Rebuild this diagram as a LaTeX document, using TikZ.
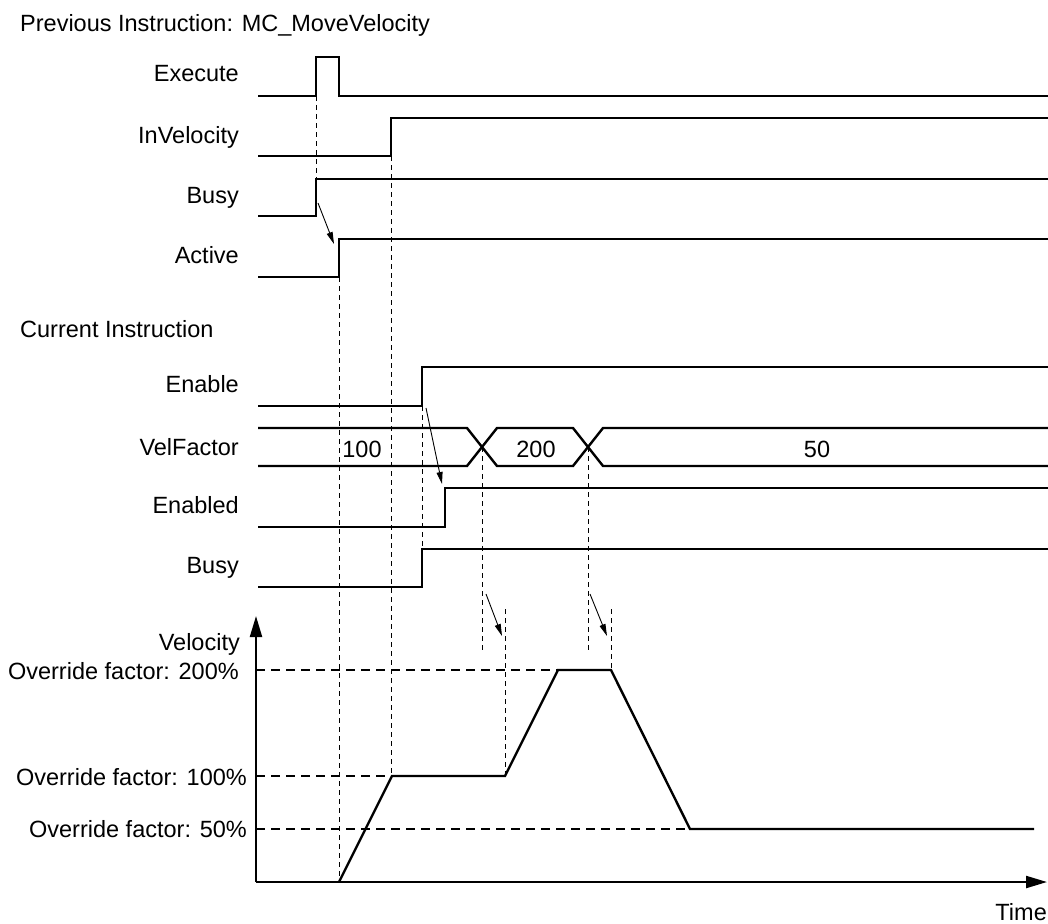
\documentclass[tikz,border=0pt]{standalone}
\usepackage{fontspec}
\setmainfont{Liberation Sans}
\usepackage{tikz}
\usetikzlibrary{arrows.meta}
\tikzset{
  lbl/.style={font=\fontsize{23.5}{28}\selectfont,anchor=base east,inner sep=0pt},
  txt/.style={font=\fontsize{23.5}{28}\selectfont,inner sep=0pt},
  sig/.style={line width=2.4pt,line join=miter},
  tick/.style={line width=0.9pt,dash pattern=on 5pt off 4pt},
  lvl/.style={line width=1.6pt,dash pattern=on 9pt off 6pt},
  cause/.style={line width=0.9pt,-{Triangle[length=12pt,width=6pt]}}
}

\begin{document}
\begin{tikzpicture}[x=1pt,y=-1pt]
            \useasboundingbox (0,0) rectangle (1048,923);

            % Previous instruction
            \node[txt,anchor=base west] (prev) at (20,32) {Previous Instruction: MC\_MoveVelocity};
            \node[lbl] (execute) at (239,82) {Execute};
            \node[lbl] (invelocity) at (239,143) {InVelocity};
            \node[lbl] (busyA) at (239,203) {Busy};
            \node[lbl] (active) at (239,263) {Active};

            \draw[sig] (258,96) -- (316,96) -- (316,57) -- (339,57) -- (339,96) -- (1048,96);
            \draw[sig] (258,156) -- (391,156) -- (391,118) -- (1048,118);
            \draw[sig] (258,216) -- (316,216) -- (316,179) -- (1048,179);
            \draw[sig] (258,277) -- (339,277) -- (339,239) -- (1048,239);

            % Current instruction
            \node[txt,anchor=base west] (curr) at (20,337) {Current Instruction};
            \node[lbl] (enable) at (239,392) {Enable};
            \node[lbl] (velfactor) at (239,455) {VelFactor};
            \node[lbl] (enabled) at (239,513) {Enabled};
            \node[lbl] (busyB) at (239,573) {Busy};

            \draw[sig] (258,406) -- (422,406) -- (422,367) -- (1048,367);
            \draw[sig] (258,428) -- (467,428) -- (497,466) -- (573,466) -- (603,428) -- (1048,428);
            \draw[sig] (258,466) -- (467,466) -- (497,428) -- (573,428) -- (603,466) -- (1048,466);
            \draw[sig] (258,527) -- (445,527) -- (445,488) -- (1048,488);
            \draw[sig] (258,587) -- (422,587) -- (422,549) -- (1048,549);

            \node[txt,anchor=base] (vf100) at (362,457) {100};
            \node[txt,anchor=base] (vf200) at (536,457) {200};
            \node[txt,anchor=base] (vf50) at (817,457) {50};

            % Velocity graph
            \node[lbl] (velocity) at (240,650) {Velocity};
            \node[lbl] (ov200) at (239,679) {Override factor: 200\%};
            \node[lbl] (ov100) at (247,785) {Override factor: 100\%};
            \node[lbl] (ov50) at (247,837) {Override factor: 50\%};
            \node[txt,anchor=base east] (time) at (1047,920) {Time};

            \coordinate (origin) at (256,882);
            \coordinate (vtop) at (256,616);
            \coordinate (tend) at (1047,882);
            \draw[line width=2.2pt,-{Triangle[length=21pt,width=12pt]}] (origin) -- (vtop);
            \draw[line width=2.2pt,-{Triangle[length=21pt,width=12pt]}] (origin) -- (tend);

            \draw[lvl] (256,670) -- (558,670);
            \draw[lvl] (256,776) -- (392,776);
            \draw[lvl] (256,829) -- (690,829);

            \draw[sig] (339,882) -- (392,776) -- (505,776) -- (558,670) -- (611,670) -- (690,829) -- (1034,829);

            % Timing marks
            \draw[tick] (316,96) -- (316,179);
            \draw[tick] (339,277) -- (339,882);
            \draw[tick] (391,156) -- (391,776);
            \draw[tick] (422,406) -- (422,549);
            \draw[tick] (482,447) -- (482,651);
            \draw[tick] (588,447) -- (588,651);
            \draw[tick] (505,609) -- (505,776);
            \draw[tick] (611,609) -- (611,670);

            % Arrows
            \coordinate (a1) at (318,203);
            \coordinate (b1) at (334,244);
            \coordinate (a2) at (426,408);
            \coordinate (b2) at (442,484);
            \coordinate (a3) at (486,594);
            \coordinate (b3) at (502,636);
            \coordinate (a4) at (590,594);
            \coordinate (b4) at (607,636);
            \draw[cause] (a1) -- (b1);
            \draw[cause] (a2) -- (b2);
            \draw[cause] (a3) -- (b3);
            \draw[cause] (a4) -- (b4);
        \end{tikzpicture}
\end{document}
